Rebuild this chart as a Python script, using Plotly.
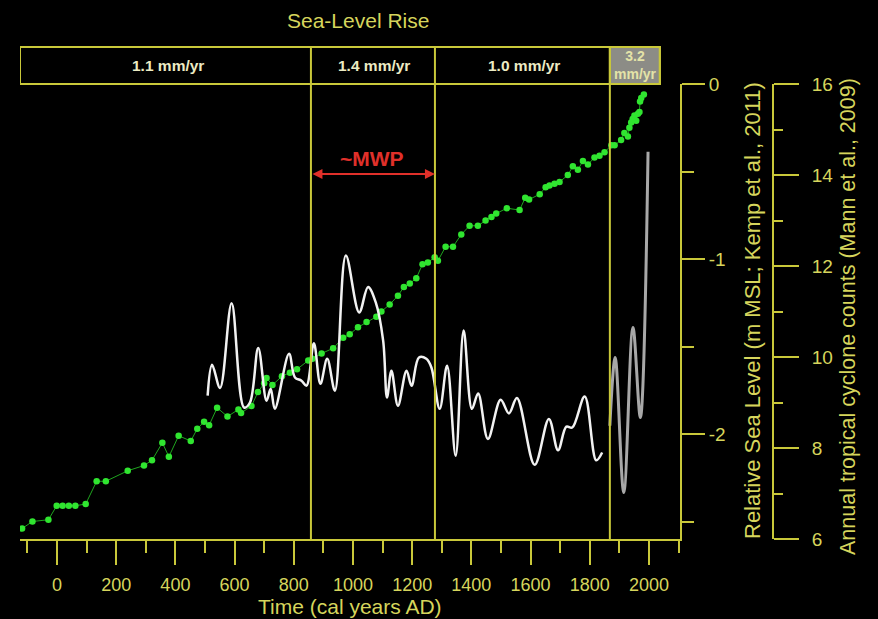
import plotly.graph_objects as go

# ---- data ----
sl_years = [-118, -83, -29, -1, 19, 40, 62, 97, 134, 165, 239, 294, 321, 356, 378, 411, 452, 474, 497, 514,
            541, 576, 613, 622, 657, 679, 700, 708, 728, 760, 787, 811, 849, 863, 894, 933, 967, 989, 1017, 1046,
            1079, 1096, 1124, 1152, 1172, 1192, 1214, 1235, 1253, 1276, 1287, 1313, 1338, 1366, 1394, 1422, 1448,
            1468, 1484, 1520, 1563, 1582, 1595, 1631, 1651, 1664, 1681, 1698, 1726, 1743, 1760, 1777, 1794, 1816,
            1833, 1850, 1873, 1884, 1906, 1917, 1929, 1934, 1940, 1945, 1951, 1957, 1963, 1968, 1970, 1974, 1983]
sl_values = [-2.54, -2.50, -2.49, -2.41, -2.41, -2.41, -2.41, -2.40, -2.27, -2.27, -2.21, -2.18, -2.15, -2.05,
             -2.13, -2.01, -2.04, -1.97, -1.93, -1.95, -1.85, -1.90, -1.86, -1.88, -1.84, -1.76, -1.71, -1.68,
             -1.72, -1.67, -1.65, -1.63, -1.58, -1.57, -1.54, -1.51, -1.45, -1.43, -1.39, -1.36, -1.33, -1.30,
             -1.26, -1.21, -1.16, -1.14, -1.11, -1.03, -1.02, -0.99, -1.01, -0.93, -0.93, -0.86, -0.81, -0.81,
             -0.78, -0.76, -0.74, -0.71, -0.72, -0.65, -0.66, -0.63, -0.59, -0.58, -0.57, -0.56, -0.52, -0.47,
             -0.49, -0.44, -0.46, -0.42, -0.41, -0.39, -0.35, -0.35, -0.32, -0.28, -0.30, -0.25, -0.22, -0.20,
             -0.18, -0.21, -0.17, -0.16, -0.10, -0.08, -0.06]

tc_years = [509, 524, 551, 590, 632, 652, 680, 708, 722, 736, 784, 804, 826, 843, 868, 890, 913, 939, 976,
            1021, 1051, 1077, 1102, 1115, 1130, 1152, 1181, 1198, 1223, 1248, 1265, 1293, 1318, 1347, 1374,
            1402, 1423, 1456, 1499, 1527, 1554, 1614, 1662, 1693, 1721, 1741, 1783, 1822, 1842]
tc_counts = [9.15, 9.83, 9.32, 11.18, 8.89, 9.00, 10.20, 9.04, 9.30, 8.86, 10.07, 9.55, 9.48, 9.37, 10.30,
             9.41, 9.96, 9.26, 12.23, 10.98, 11.54, 11.20, 10.36, 9.11, 9.70, 8.93, 9.70, 9.37, 9.99, 9.96,
             9.77, 8.86, 9.81, 7.83, 10.58, 8.86, 9.20, 8.20, 9.06, 8.76, 9.10, 7.63, 8.64, 7.95, 8.47, 8.45,
             9.13, 7.73, 7.90]

tc_recent_years = [1868, 1886, 1915, 1946, 1971, 1997]
tc_recent_counts = [8.49, 9.99, 7.02, 10.65, 8.67, 14.51]

period_bounds = [858, 1277, 1868]
box_end = 2037
rate_labels = ["1.1 mm/yr", "1.4 mm/yr", "1.0 mm/yr", "3.2<br>mm/yr"]
rate_centers = [375, 1070, 1578, 1956]

x_ticks = list(range(0, 2001, 200))
sl_ticks = [0, -1, -2]
tc_ticks = list(range(6, 17, 2))

# ---- style ----
YEL = "#c9c83a"
YTXT = "#d6d55c"
FONT = "Liberation Sans, Arial, sans-serif"
W, H = 878, 619
ML, MR, MT, MB = 20, 105, 84, 80
PW = W - ML - MR
PH = H - MT - MB


def px(xp):
    return (xp - ML) / PW


def py(yp):
    return (H - MB - yp) / PH


fig = go.Figure()

fig.add_trace(go.Scatter(x=tc_years, y=tc_counts, yaxis="y2", mode="lines",
                         line=dict(color="#f2f2f2", width=2.5, shape="spline", smoothing=1.0),
                         showlegend=False, hoverinfo="skip"))
fig.add_trace(go.Scatter(x=tc_recent_years, y=tc_recent_counts, yaxis="y2", mode="lines",
                         line=dict(color="#a8a8a8", width=3, shape="spline", smoothing=1.0),
                         showlegend=False, hoverinfo="skip"))
fig.add_trace(go.Scatter(x=sl_years, y=sl_values, yaxis="y", mode="lines+markers",
                         line=dict(color="#1fa51f", width=1),
                         marker=dict(color="#30e530", size=6.5),
                         showlegend=False, hoverinfo="skip"))

shapes = []
top = py(47)
for b in period_bounds:
    shapes.append(dict(type="line", xref="x", yref="paper", x0=b, x1=b, y0=0, y1=top,
                       line=dict(color=YEL, width=2)))
shapes.append(dict(type="rect", xref="x", yref="paper", x0=period_bounds[2], x1=box_end, y0=1.0, y1=top,
                   fillcolor="#8c8c86", line=dict(color=YEL, width=2), layer="below"))
shapes.append(dict(type="rect", xref="x", yref="paper", x0=-125, x1=box_end, y0=1.0, y1=top,
                   line=dict(color=YEL, width=2)))
fig.update_layout(shapes=shapes)


def label(text, x, y, size, color=YTXT, xref="paper", angle=0):
    return dict(text=text, xref=xref, yref="paper", x=x, y=y, xanchor="center", yanchor="middle",
                textangle=angle, showarrow=False, font=dict(size=size, color=color, family=FONT))


ann = []
ann.append(label("Sea-Level Rise", px(358), py(20), 21))
for i, (lab, c) in enumerate(zip(rate_labels, rate_centers)):
    if i < 3:
        ann.append(label("<b>%s</b>" % lab, c, py(66), 15.5, "#ecebc4", xref="x"))
    else:
        ann.append(label("<b>%s</b>" % lab, c, py(65), 14, "#e4e3a8", xref="x"))
ann.append(dict(text="", xref="x", yref="paper", x=period_bounds[1], y=py(174),
                ax=period_bounds[0], ay=0, axref="x", ayref="pixel",
                showarrow=True, arrowhead=2, startarrowhead=2, arrowside="end+start",
                arrowcolor="#e0302a", arrowwidth=2, arrowsize=1, startarrowsize=1))
ann.append(label("<b>~MWP</b>", px(372), py(158), 21, "#e0302a"))
ann.append(label("Relative Sea Level (m MSL; Kemp et al., 2011)", px(752), py(311), 22, angle=-90))
ann.append(label("Annual tropical cyclone counts (Mann et al., 2009)", px(848), py(316), 21.5, angle=-90))
ann.append(label("Time (cal years AD)", px(350), py(606), 21))
fig.update_layout(annotations=ann)

fig.update_layout(
    width=W, height=H,
    margin=dict(l=ML, r=MR, t=MT, b=MB, pad=0),
    paper_bgcolor="black", plot_bgcolor="black",
    font=dict(family=FONT, color=YTXT, size=16),
    xaxis=dict(domain=[0, px(680)], range=[-125, 2105], showgrid=False, zeroline=False,
               showline=True, linecolor=YEL, linewidth=2,
               tickvals=x_ticks, ticks="outside", ticklen=24, tickwidth=2, tickcolor=YEL,
               ticklabelstandoff=4,
               tickfont=dict(size=18, color=YTXT, family=FONT),
               minor=dict(tickvals=list(range(-100, 2101, 200)), ticks="outside", ticklen=12,
                          tickwidth=2, tickcolor=YEL, showgrid=False)),
    yaxis=dict(side="right", anchor="x", range=[-2.6, 0], showgrid=False, zeroline=False,
               showline=True, linecolor=YEL, linewidth=2,
               tickvals=sl_ticks, ticktext=["0", "-1", "-2"], ticks="outside", ticklen=23,
               tickwidth=2, tickcolor=YEL, tickfont=dict(size=19, color=YTXT, family=FONT),
               minor=dict(tickvals=[-0.5, -1.5, -2.5], ticks="outside", ticklen=12, tickwidth=2,
                          tickcolor=YEL, showgrid=False)),
    yaxis2=dict(side="right", anchor="free", overlaying="y", position=1.0, range=[6, 16],
                showgrid=False, zeroline=False, showline=True, linecolor=YEL, linewidth=2,
                tickvals=tc_ticks, ticks="outside", ticklen=25, tickwidth=2, tickcolor=YEL,
                ticklabelstandoff=9,
                tickfont=dict(size=19, color=YTXT, family=FONT),
                minor=dict(tickvals=list(range(7, 16, 2)), ticks="outside", ticklen=9, tickwidth=2,
                           tickcolor=YEL, showgrid=False)),
)

fig.write_html("out.html", config={"displayModeBar": False},
               post_script="document.body.style.margin='0px';document.body.style.background='black';")
